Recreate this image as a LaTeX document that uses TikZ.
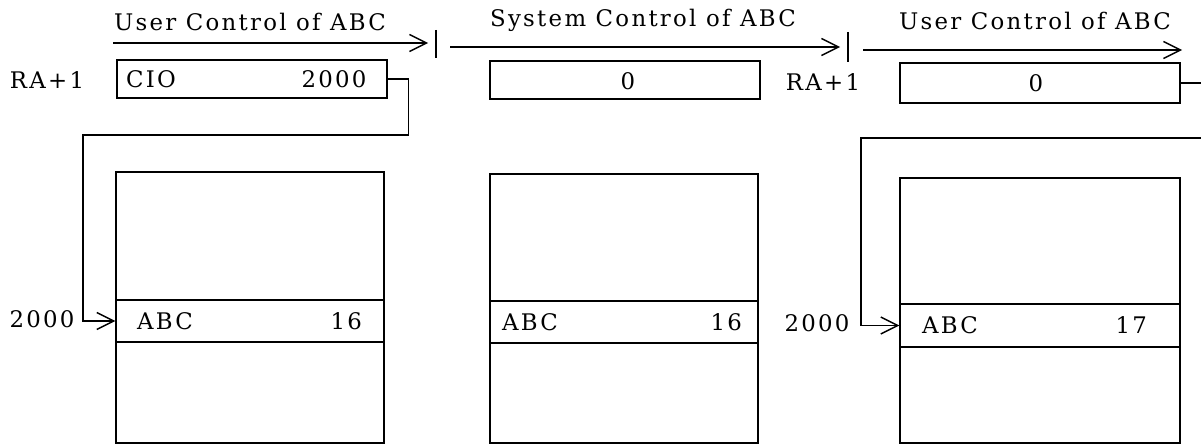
\documentclass[tikz,border=0pt]{standalone}
\usepackage{fontspec}
\setmainfont{DejaVu Serif}
\newfontfamily\spacedfont{DejaVu Serif}[LetterSpace=10]
\usetikzlibrary{arrows.meta,positioning}

\begin{document}
\begin{tikzpicture}[
  x=0.02cm, y=-0.02cm,
  line width=0.8pt,
  txt/.style={font=\spacedfont\fontsize{13}{15}\selectfont, inner sep=0pt},
  ptr/.style={-{Straight Barb[length=3.4mm, width=3.4mm]}},
  regbox/.style={draw, minimum width=5.4cm, minimum height=0.76cm, inner sep=0pt},
  memcell/.style={draw, minimum width=5.36cm, inner sep=0pt}
]
\useasboundingbox (0,0) rectangle (1201,446);

% Phases along the top.
\node[txt] (ph1) at (250,22) {User Control of ABC};
\node[txt] (ph2) at (643,20) {System Control of ABC};
\node[txt] (ph3) at (1035,21) {User Control of ABC};
\coordinate (ph1s) at (113,43);
\coordinate (ph1e) at (428,43);
\coordinate (ph2s) at (450,47);
\coordinate (ph2e) at (840,47);
\coordinate (ph3s) at (863,50);
\coordinate (ph3e) at (1182,50);
\draw[ptr] (ph1s) -- (ph1e);
\draw[ptr] (ph2s) -- (ph2e);
\draw[ptr] (ph3s) -- (ph3e);
\draw (436,30) -- (436,58);
\draw (848,32) -- (848,62);

% RA+1 words.
\node[txt] (ra1) at (47,80) {RA+1};
\node[regbox] (reg1) at (252,79) {};
\node[txt] (cio) at (151,79) {CIO};
\node[txt] (ptr1) at (334,79) {2000};

\node[regbox] (reg2) at (625,80) {};
\node[txt] (zero2) at (628,81) {0};

\node[txt] (ra2) at (823,82) {RA+1};
\node[regbox, minimum width=5.6cm, minimum height=0.8cm] (reg3) at (1040,83) {};
\node[txt] (zero3) at (1036,83) {0};

% Core blocks.
\node[memcell, minimum height=5.42cm] (memA) at (250,307.5) {};
\node[memcell, minimum height=0.84cm] (rowA) at (250,321) {};
\node[txt, anchor=west] (nameA) at ([xshift=0.42cm]rowA.west) {ABC};
\node[txt, anchor=east] (cntA) at ([xshift=-0.44cm]rowA.east) {16};

\node[memcell, minimum height=5.38cm] (memB) at (624,308.5) {};
\node[memcell, minimum height=0.84cm] (rowB) at (624,322) {};
\node[txt, anchor=west] (nameB) at ([xshift=0.24cm]rowB.west) {ABC};
\node[txt, anchor=east] (cntB) at ([xshift=-0.32cm]rowB.east) {16};

\node[memcell, minimum width=5.6cm, minimum height=5.3cm] (memC) at (1040,310.5) {};
\node[memcell, minimum width=5.6cm, minimum height=0.86cm] (rowC) at (1040,325.5) {};
\node[txt, anchor=west] (nameC) at ([xshift=0.44cm]rowC.west) {ABC};
\node[txt, anchor=east] (cntC) at ([xshift=-0.66cm]rowC.east) {17};

% Pointers into core.
\node[txt] (adrA) at (42,319) {2000};
\node[txt] (adrC) at (817,323) {2000};
\draw[ptr] (reg1.east) -- ++(21,0) |- (83,135) |- (rowA.west);

\coordinate (edgeR) at (1201,0);
\coordinate (wrapC) at (1201,138);
\draw (reg3.east) -- (reg3.east -| edgeR);
\draw[ptr] (wrapC) -- (861,138) |- (rowC.west);

\end{tikzpicture}
\end{document}
